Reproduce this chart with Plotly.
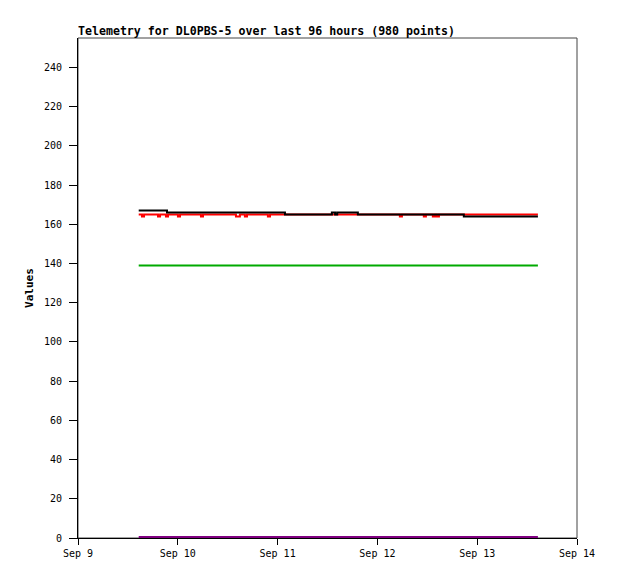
import plotly.graph_objects as go

# telemetry channels (stepped samples)
red_times = [
    "2024-09-09 14:36", "2024-09-09 15:23", "2024-09-09 15:53", "2024-09-09 19:14", "2024-09-09 19:44",
    "2024-09-09 21:09", "2024-09-09 21:39", "2024-09-10 00:02", "2024-09-10 00:32", "2024-09-10 05:34",
    "2024-09-10 06:04", "2024-09-10 13:59", "2024-09-10 14:56", "2024-09-10 16:08", "2024-09-10 16:38",
    "2024-09-10 21:40", "2024-09-10 22:10", "2024-09-12 05:24", "2024-09-12 05:54", "2024-09-12 11:10",
    "2024-09-12 11:40", "2024-09-12 13:20", "2024-09-12 13:50", "2024-09-12 14:18", "2024-09-12 14:48",
    "2024-09-13 14:36",
]
red_values = [
    165, 164, 165, 164, 165,
    164, 165, 164, 165, 164,
    165, 164, 165, 164, 165,
    164, 165, 164, 165, 164,
    165, 164, 165, 164, 165,
    165,
]

black_times = [
    "2024-09-09 14:36", "2024-09-09 21:24", "2024-09-11 01:46", "2024-09-11 13:03", "2024-09-11 13:50",
    "2024-09-11 14:20", "2024-09-11 19:18", "2024-09-12 20:47", "2024-09-13 14:36",
]
black_values = [167, 166, 165, 166, 165, 166, 165, 164, 164]

green_times = ["2024-09-09 14:36", "2024-09-13 14:36"]
green_values = [139, 139]

purple_times = ["2024-09-09 14:36", "2024-09-13 14:36"]
purple_values = [0, 0]

x_ticks = ["2024-09-09", "2024-09-10", "2024-09-11", "2024-09-12", "2024-09-13", "2024-09-14"]
x_labels = ["Sep 9", "Sep 10", "Sep 11", "Sep 12", "Sep 13", "Sep 14"]

mono = "DejaVu Sans Mono"

fig = go.Figure()
fig.add_trace(go.Scatter(x=green_times, y=green_values, mode="lines",
                         line=dict(color="#00aa00", width=2)))
fig.add_trace(go.Scatter(x=purple_times, y=purple_values, mode="lines",
                         line=dict(color="#800080", width=4)))
fig.add_trace(go.Scatter(x=red_times, y=red_values, mode="lines",
                         line=dict(color="#ff0000", width=2, shape="hv")))
fig.add_trace(go.Scatter(x=black_times, y=black_values, mode="lines",
                         line=dict(color="#000000", width=2, shape="hv")))

# page body has an 8px margin, so the figure is a bit smaller than the window
fig.update_layout(
    width=610, height=571,
    margin=dict(l=70, r=41, t=30, b=41),
    paper_bgcolor="white", plot_bgcolor="white",
    showlegend=False,
    font=dict(family=mono, size=10, color="black"),
    title=dict(text="<b>Telemetry for DL0PBS-5 over last 96 hours (980 points)</b>",
               font=dict(family=mono, size=11.6, color="black"),
               x=0, xref="paper", xanchor="left",
               y=1, yref="paper", yanchor="bottom", pad=dict(b=3)),
)
fig.update_xaxes(
    range=["2024-09-09", "2024-09-14"], tickvals=x_ticks, ticktext=x_labels,
    showgrid=False, zeroline=False, showline=True, linecolor="black", linewidth=1,
    ticks="outside", ticklen=6, tickcolor="black",
)
fig.update_yaxes(
    range=[0, 255], dtick=20, tick0=0,
    title=dict(text="<b>Values</b>", font=dict(family=mono, size=11), standoff=8),
    showgrid=False, zeroline=False, showline=True, linecolor="black", linewidth=1,
    ticks="outside", ticklen=8, tickcolor="black", ticklabelstandoff=5,
)
fig.add_shape(type="rect", xref="paper", yref="paper", x0=0, y0=0, x1=1, y1=1,
              line=dict(color="#444444", width=1), layer="below")

fig.write_html("out.html")
